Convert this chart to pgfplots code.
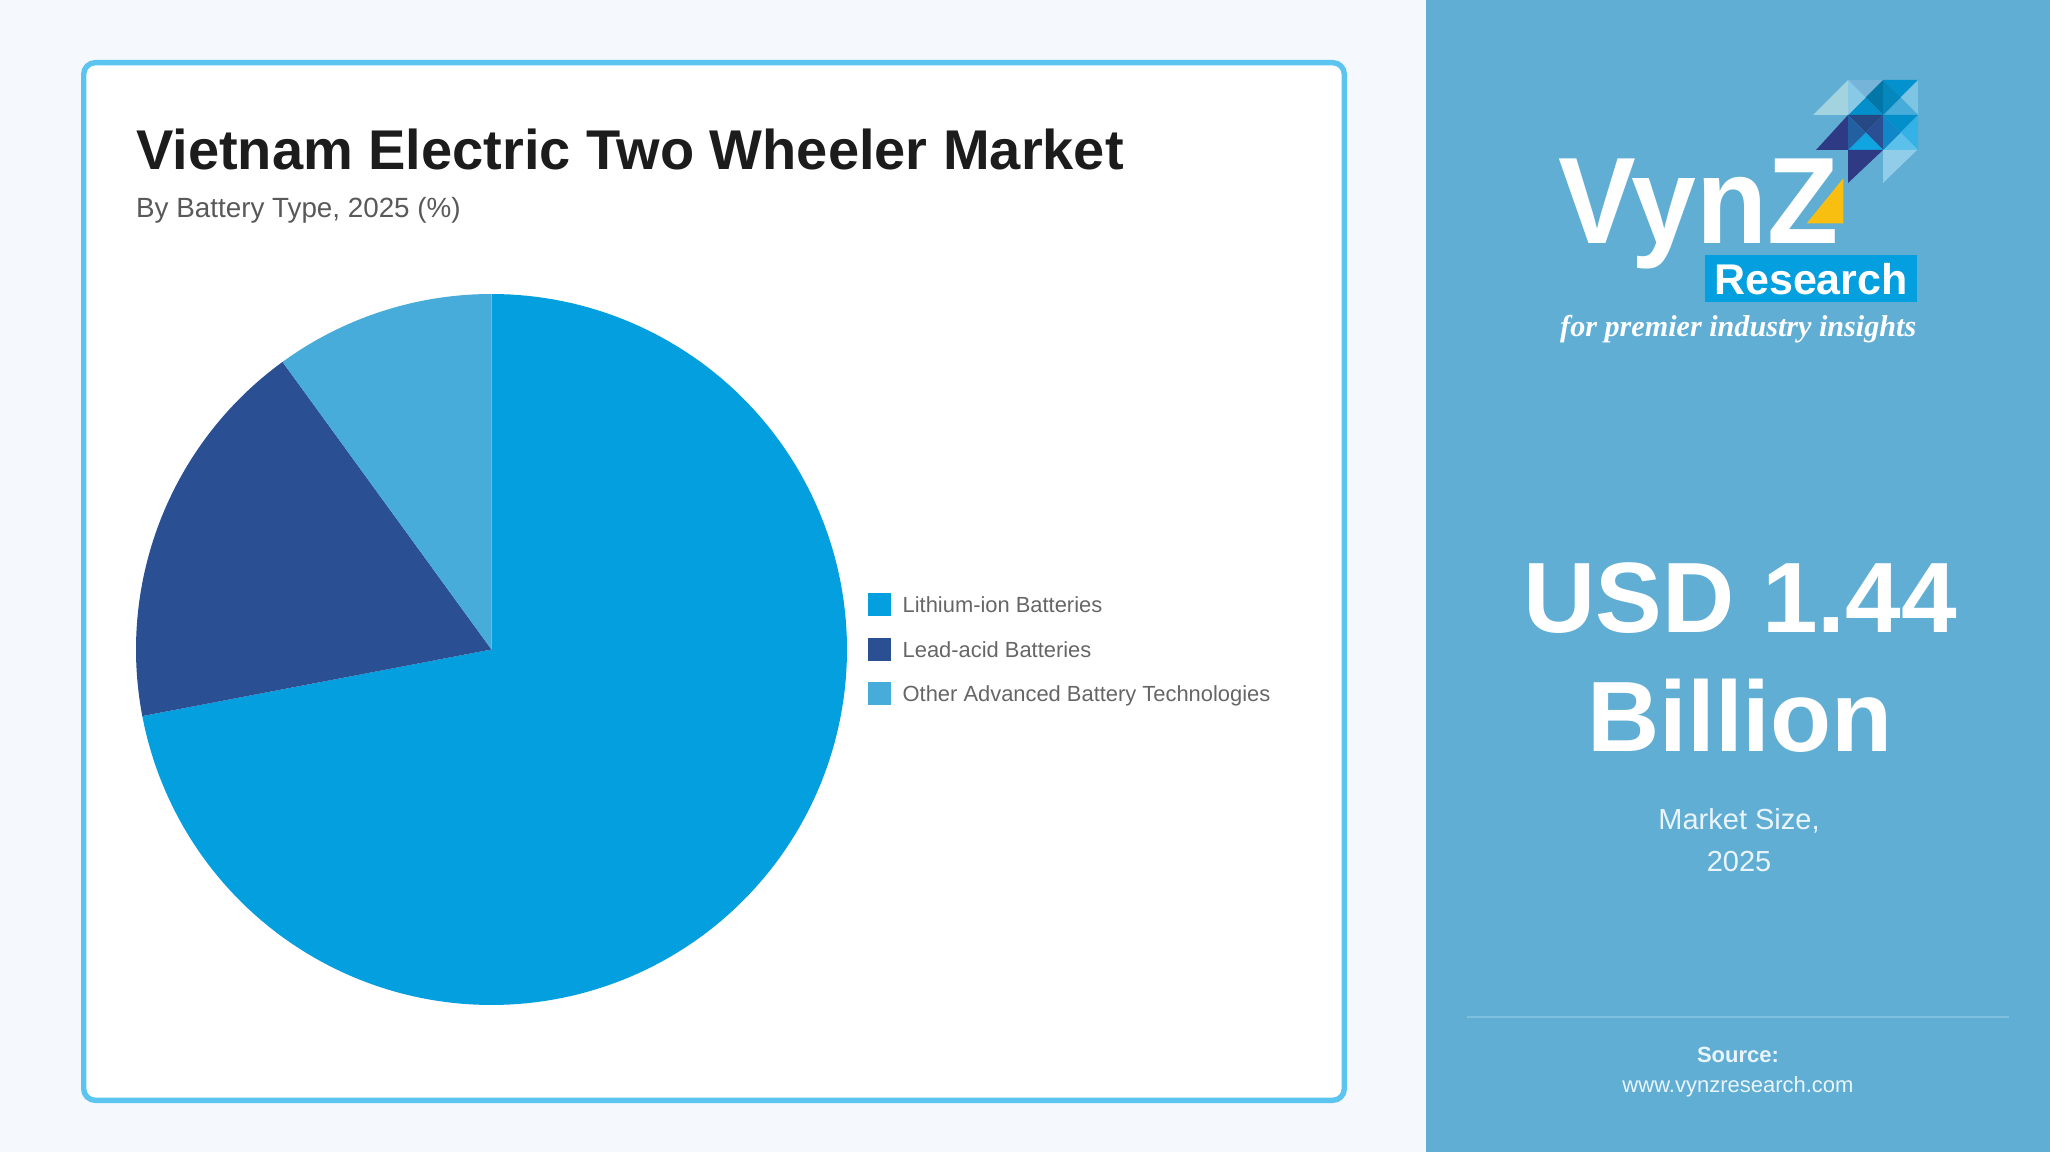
\documentclass[border=0pt]{standalone}
\usepackage{pgfplots}
\pgfplotsset{compat=1.18}
\usepackage{pgfplotstable}
\usepackage{graphicx}
\usepackage{fontspec}
\setmainfont{Liberation Sans}
\newfontfamily\tagfont{Liberation Serif}

\definecolor{pagebg}{HTML}{F5F8FC}
\definecolor{panel}{HTML}{60AED4}
\definecolor{cardline}{HTML}{5BC5F0}
\definecolor{slice0}{HTML}{039FDF}
\definecolor{slice1}{HTML}{2A5093}
\definecolor{slice2}{HTML}{47ACD9}
\definecolor{titlecol}{HTML}{1C1C1C}
\definecolor{subcol}{HTML}{595959}
\definecolor{legcol}{HTML}{666666}
\definecolor{softwhite}{HTML}{EAF5FB}
\definecolor{rulecol}{HTML}{7FBFDF}
\definecolor{logoyellow}{HTML}{F8BE10}
\definecolor{navy}{HTML}{2E3A84}

% battery type shares, 2025 (%)
\pgfplotstableread[col sep=comma]{
type,share
Lithium-ion Batteries,72
Lead-acid Batteries,18
Other Advanced Battery Technologies,10
}\batterydata

% one square of the logo mosaic, split in four triangles
% #1 x left, #2 y top, #3 top, #4 right, #5 bottom, #6 left
\newcommand\mosaiccell[6]{%
  \fill[#3] (#1,#2) -- ++(35,0) -- ++(-17.5,-17.5) -- cycle;
  \fill[#4] (#1,#2) ++(35,0) -- ++(0,-35) -- ++(-17.5,17.5) -- cycle;
  \fill[#5] (#1,#2) ++(0,-35) -- ++(35,0) -- ++(-17.5,17.5) -- cycle;
  \fill[#6] (#1,#2) -- ++(0,-35) -- ++(17.5,17.5) -- cycle;
}

\begin{document}
\begin{tikzpicture}[x=1pt,y=1pt]
\useasboundingbox (0,0) rectangle (2050,1152);
\fill[pagebg] (0,0) rectangle (2050,1152);
\fill[panel] (1426,0) rectangle (2050,1152);

% card
\draw[cardline, line width=5.4pt, fill=white, rounded corners=11.5pt]
  (83.7,51.7) rectangle (1344.3,1089.3);

\node[anchor=base west, inner sep=0pt, text=titlecol,
  font=\fontsize{56}{60}\selectfont\bfseries] at (136,982)
  {Vietnam Electric Two Wheeler Market};
\node[anchor=base west, inner sep=0pt, text=subcol,
  font=\fontsize{27.8}{30}\selectfont] at (136,934)
  {By Battery Type, 2025 (\%)};

\begin{axis}[
  at={(491.5pt,502.5pt)}, anchor=center,
  scale only axis, width=711pt, height=711pt,
  xmin=-1, xmax=1, ymin=-1, ymax=1,
  hide axis, clip=false,
  legend image code/.code={\fill[#1] (0pt,-11.5pt) rectangle (23pt,11.5pt);},
  legend cell align=left,
  legend style={
    at={(1.0295,0.5)}, anchor=west,
    draw=none, fill=none, inner sep=0pt,
    font=\fontsize{21.9}{25}\selectfont, text=legcol,
    row sep=21.5pt,
    nodes={inner sep=0pt, text height=15.5pt, text depth=0pt},
    /tikz/every odd column/.append style={column sep=11.5pt},
  },
]
\gdef\angstart{90}
\pgfplotsinvokeforeach{0,1,2}{%
  \pgfplotstablegetelem{#1}{share}\of\batterydata
  \pgfmathsetmacro\angstop{\angstart-3.6*\pgfplotsretval}
  \edef\temp{\noexpand\addplot[fill=slice#1, draw=none,
    domain=\angstop:\angstart, samples=181, variable=\noexpand\t]
    ({cos(\noexpand\t)},{sin(\noexpand\t)}) -- (axis cs:0,0) -- cycle;}
  \temp
  \pgfplotstablegetelem{#1}{type}\of\batterydata
  \edef\temp{\noexpand\addlegendentry{\pgfplotsretval}}
  \temp
  \global\let\angstart\angstop
}
\end{axis}

% logo
\mosaiccell{1848}{1072}{white!45!cyan!40!panel}{black!25!slice0}{black!10!slice0}{white!35!slice2}
\fill[white!40!slice2!70!teal!60] (1813,1037) -- (1848,1072) -- (1848,1037) -- cycle;
\mosaiccell{1883}{1072}{black!8!slice0}{white!30!slice2}{slice2}{black!15!slice0}
\fill[navy] (1816,1002) -- (1848,1037) -- (1848,1002) -- cycle;
\mosaiccell{1848}{1037}{slice1!90!black}{slice1}{slice0!95!white}{slice1!80!slice0}
\mosaiccell{1883}{1037}{slice0!90!black}{white!20!slice0}{white!35!slice0}{slice0!70!slice1}
\fill[navy] (1848,1002) -- (1883,1002) -- (1848,969) -- cycle;
\fill[white!40!slice2] (1883,1002) -- (1917,1002) -- (1883,969) -- cycle;

\node[anchor=base west, inner sep=0pt, text=white] at (1558,908.7)
  {\scalebox{0.947}[1]{\fontsize{123}{123}\selectfont\bfseries VynZ}};
\fill[logoyellow] (1806.7,928.7) -- (1843.3,928.7) -- (1843.3,973.7) -- cycle;
\fill[slice0] (1705,849.5) rectangle (1917,897);
\node[anchor=base, inner sep=0pt, text=white,
  font=\fontsize{43}{43}\selectfont\bfseries] at (1811,857) {Research};
\node[anchor=base west, inner sep=0pt, text=white] at (1560,815)
  {\resizebox{356pt}{!}{\tagfont\bfseries\itshape for premier industry insights}};

% market size
\node[anchor=base, inner sep=0pt, text=white,
  font=\fontsize{100}{100}\selectfont\bfseries] at (1740,519) {USD 1.44};
\node[anchor=base, inner sep=0pt, text=white,
  font=\fontsize{100}{100}\selectfont\bfseries] at (1740,400) {Billion};
\node[anchor=base, inner sep=0pt, text=softwhite,
  font=\fontsize{29}{32}\selectfont] at (1739,323) {Market Size,};
\node[anchor=base, inner sep=0pt, text=softwhite,
  font=\fontsize{29}{32}\selectfont] at (1739,281) {2025};

% source
\draw[rulecol, line width=2pt] (1467,135) -- (2009,135);
\node[anchor=base, inner sep=0pt, text=softwhite,
  font=\fontsize{22}{24}\selectfont\bfseries] at (1738,90) {Source:};
\node[anchor=base, inner sep=0pt, text=softwhite,
  font=\fontsize{22}{24}\selectfont] at (1738,60) {www.vynzresearch.com};
\end{tikzpicture}
\end{document}
